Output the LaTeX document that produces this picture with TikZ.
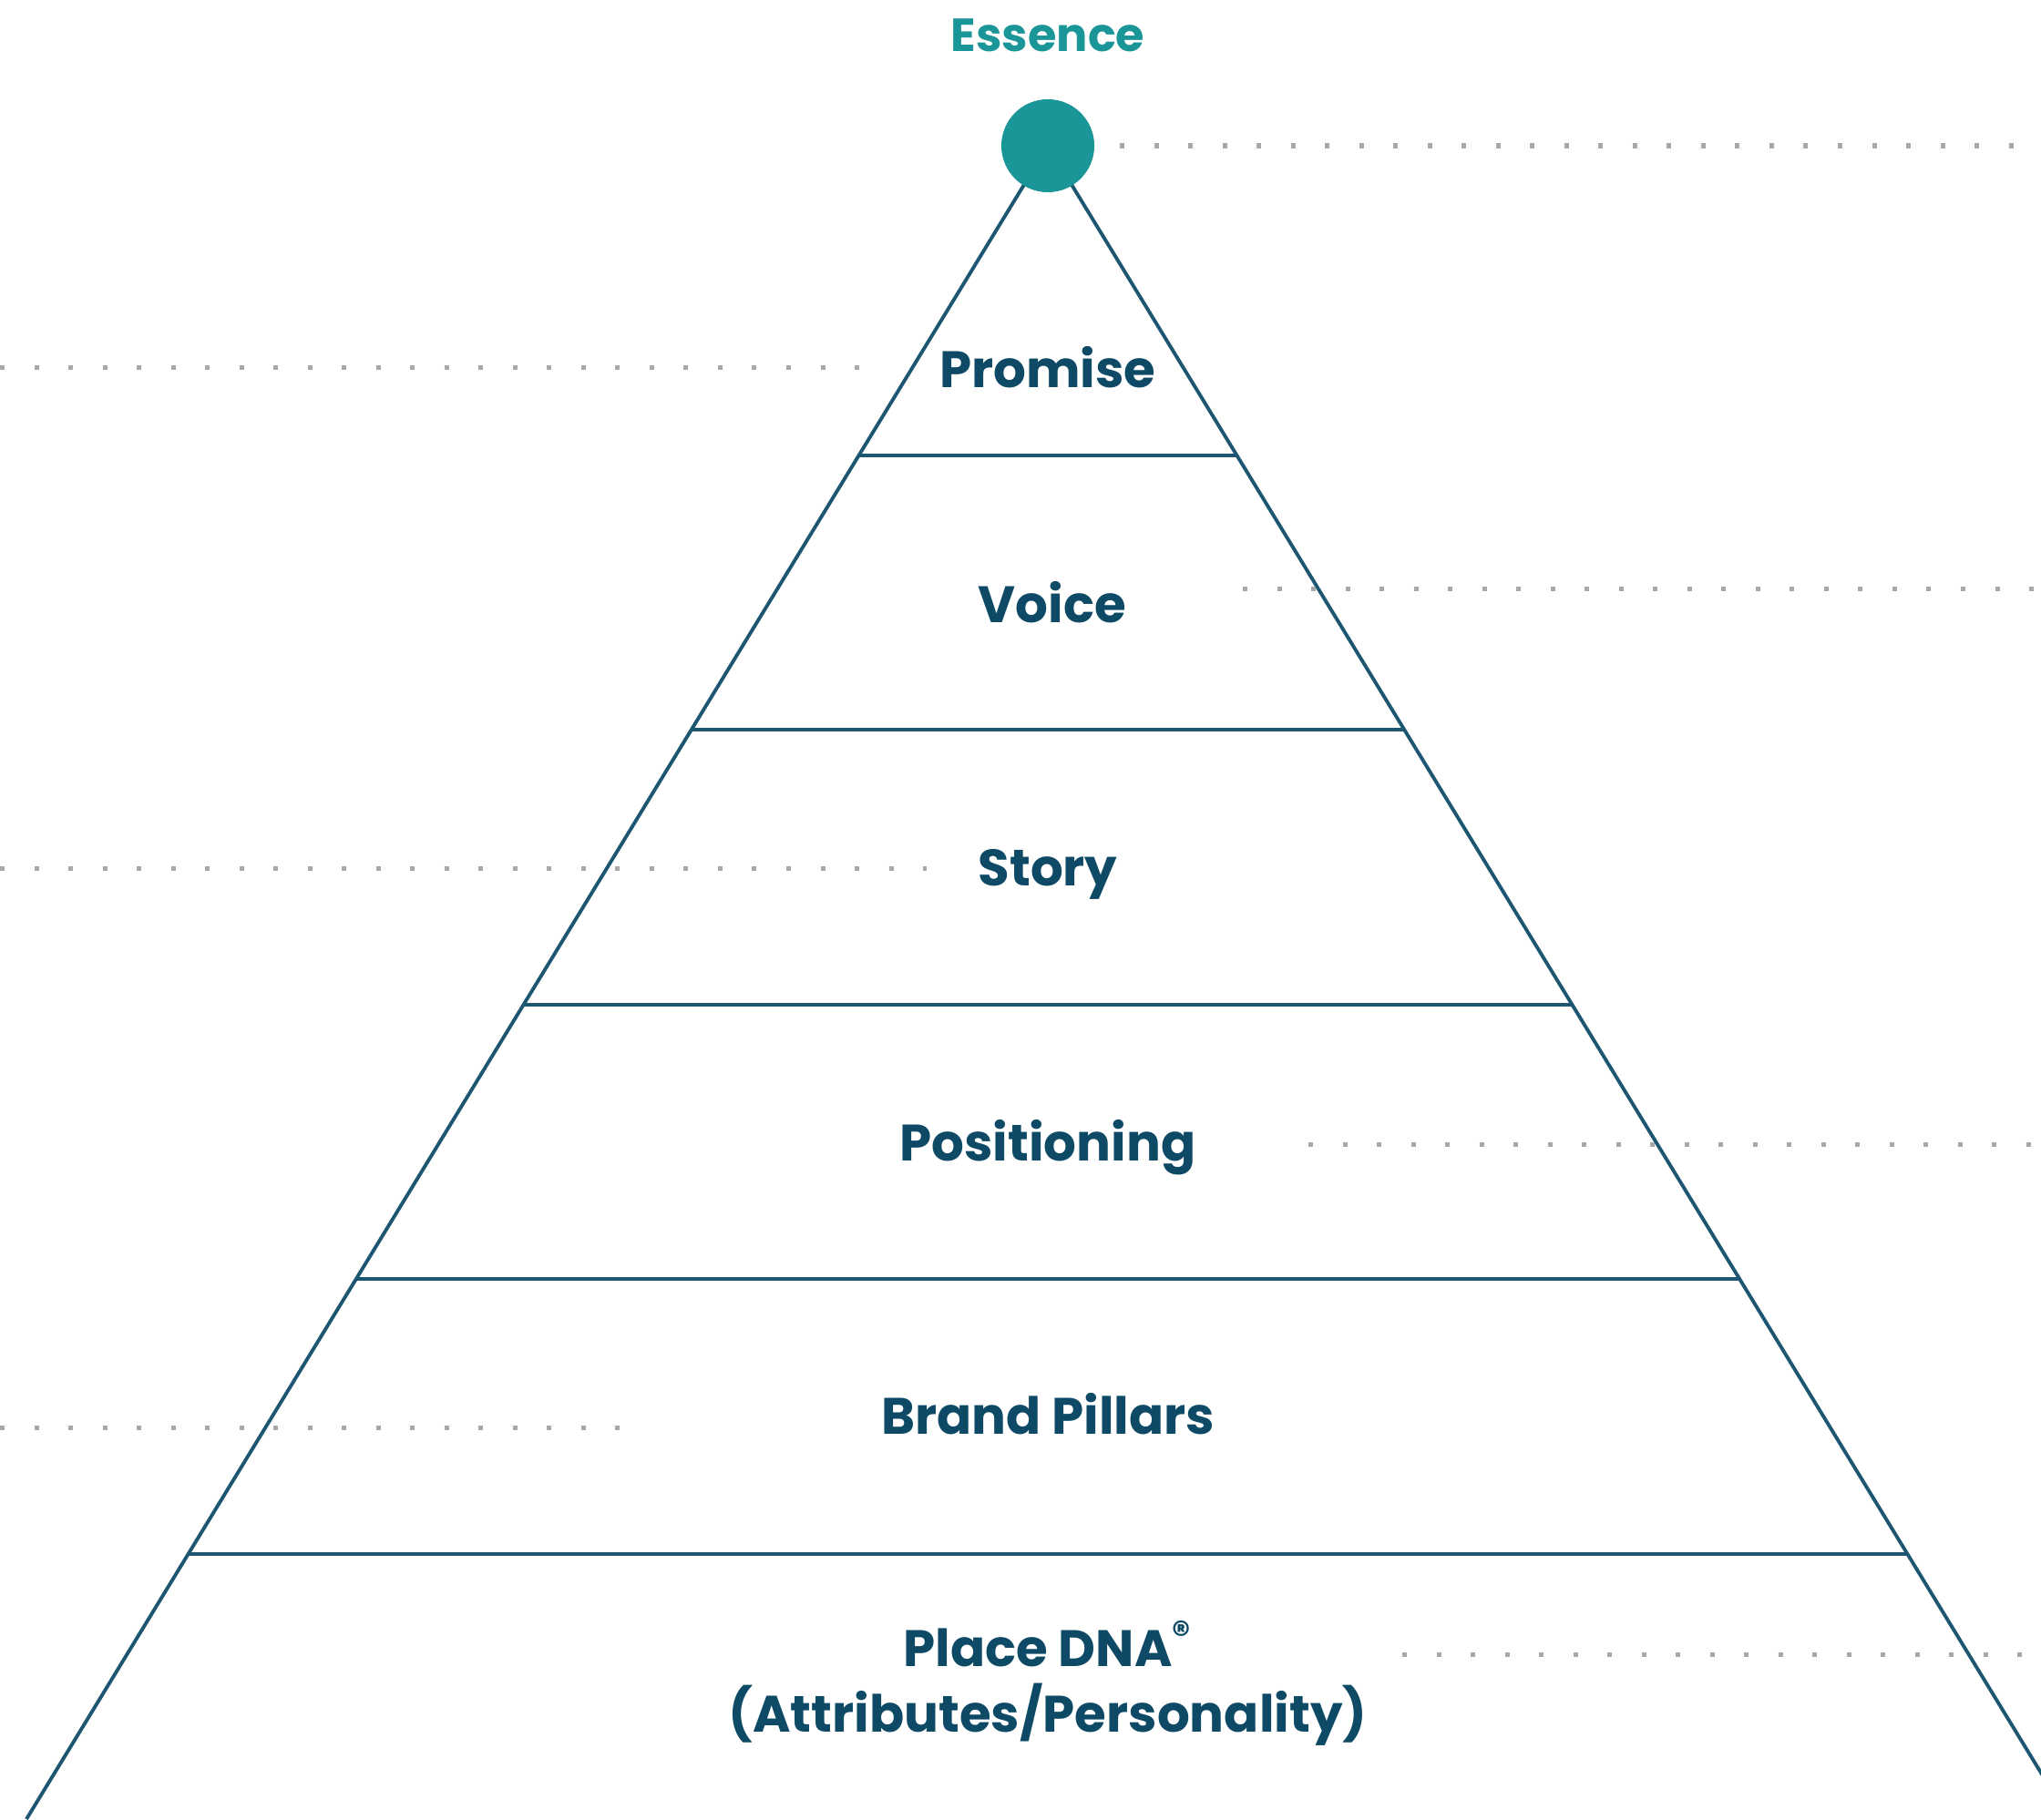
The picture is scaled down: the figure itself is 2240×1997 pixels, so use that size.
\documentclass[tikz,border=0pt]{standalone}
\usepackage{fontspec}
\setmainfont{Poppins}
\usetikzlibrary{calc}
\definecolor{pyrline}{HTML}{1D5670}
\definecolor{pyrtext}{HTML}{0E4A66}
\definecolor{essteal}{HTML}{1A9598}
\definecolor{dotgray}{HTML}{A8A8A8}

\begin{document}
\begin{tikzpicture}[x=0.01cm, y=-0.01cm,
  layer/.style={text=pyrtext, font=\fontsize{16}{20.5}\selectfont\bfseries, align=center},
  leader/.style={dotgray, line width=0.05cm, dash pattern=on 0.05cm off 0.325cm}]
\useasboundingbox (0,0) rectangle (2240,1997);
\clip (0,0) rectangle (2240,1997);

% pyramid outline
\coordinate (apex) at (1150,160);
\coordinate (bl) at (29,1997);
\coordinate (br) at (2271,1997);
\draw[pyrline, line width=1.1pt] (bl) -- (apex) -- (br);

% layer dividers
\foreach \y in {500,801,1103,1404,1706} {
  \pgfmathsetmacro{\dx}{0.61*(\y-160)}
  \draw[pyrline, line width=1.3pt] (1150-\dx,\y) -- (1150+\dx,\y);
}

% essence on top
\node[circle, fill=essteal, minimum size=1.02cm, inner sep=0] (dot) at (apex) {};
\node[text=essteal, font=\fontsize{14.5}{17}\selectfont\bfseries] (essence) at (1150,39) {Essence};

% layer labels
\node[layer] (promise) at (1150,403) {Promise};
\node[layer] (voice) at (1155,661) {Voice};
\node[layer] (story) at (1150,960) {Story};
\node[layer] (positioning) at (1150,1260) {Positioning};
\node[layer] (pillars) at (1150,1552) {Brand Pillars};
\node[layer] (dna) at (1150,1848) {Place DNA\textsuperscript{\textregistered}\\(Attributes/Personality)};

% leader lines
\coordinate (e1) at (1229,160);  \coordinate (e2) at (2240,160);
\coordinate (p1) at (0,403);     \coordinate (p2) at (975,403);
\coordinate (v1) at (1364,646);  \coordinate (v2) at (2240,646);
\coordinate (s1) at (0,953);     \coordinate (s2) at (1017,953);
\coordinate (o1) at (1436,1256); \coordinate (o2) at (2240,1256);
\coordinate (b1) at (0,1567);    \coordinate (b2) at (700,1567);
\coordinate (d1) at (1539,1816); \coordinate (d2) at (2240,1816);
\draw[leader] (e1) -- (e2);
\draw[leader] (p1) -- (p2);
\draw[leader] (v1) -- (v2);
\draw[leader] (s1) -- (s2);
\draw[leader] (o1) -- (o2);
\draw[leader] (b1) -- (b2);
\draw[leader] (d1) -- (d2);
\end{tikzpicture}
\end{document}
